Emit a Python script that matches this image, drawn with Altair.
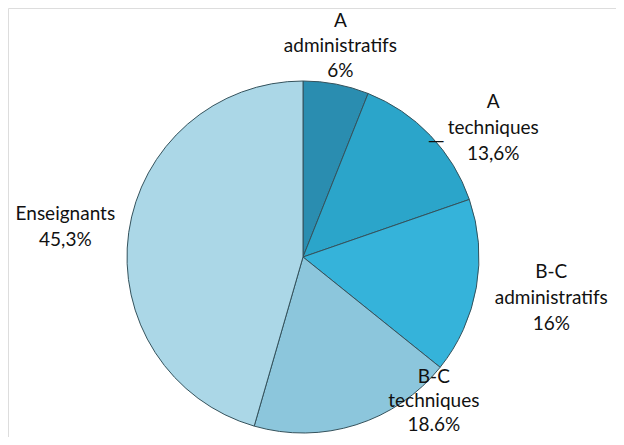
import altair as alt
import pandas as pd

categories = ["A administratifs", "A techniques", "B-C administratifs", "B-C techniques", "Enseignants"]
values = [6.0, 13.6, 16.0, 18.6, 45.3]
label_texts = ["A\nadministratifs\n6%", "A\ntechniques\n13,6%", "B-C\nadministratifs\n16%",
               "B-C\ntechniques\n18.6%", "Enseignants\n45,3%"]
colors = ["#2a8db0", "#2ba5ca", "#35b3da", "#8cc6dc", "#abd7e7"]

df = pd.DataFrame({"cat": categories, "value": values, "label": label_texts,
                   "order": list(range(len(categories)))})
total = sum(values)

CX, CY = 295, 249
theta_scale = alt.Scale(domain=[0, total])

base = alt.Chart(df)

pie = base.mark_arc(outerRadius=176, stroke="#34525c", strokeWidth=1).encode(
    theta=alt.Theta("value:Q", stack=True, scale=theta_scale),
    order=alt.Order("order:Q"),
    color=alt.Color("cat:N", scale=alt.Scale(domain=categories, range=colors), legend=None),
    x=alt.value(CX), y=alt.value(CY),
)

def label_layer(cat, text_field="label", radius=220, dx=0, dy=0, size=19, lh=26):
    return base.transform_window(
        cum="sum(value)", sort=[alt.SortField("order")]
    ).transform_calculate(
        mid="datum.cum - datum.value / 2"
    ).transform_filter(
        alt.datum.cat == cat
    ).mark_text(
        radius=radius, dx=dx, dy=dy, font="Lato", fontSize=size, color="#111111",
        lineBreak="\n", lineHeight=lh, align="center", baseline="middle"
    ).encode(
        theta=alt.Theta("mid:Q", scale=theta_scale),
        text=alt.Text(text_field) if text_field != "leader" else alt.value("\u2014"),
        x=alt.value(CX), y=alt.value(CY),
    )

LH = 26
layers = [
    pie,
    label_layer(categories[0], radius=220, dx=-4, dy=6 - LH, lh=25),
    label_layer(categories[1], radius=187, dx=55, dy=-LH),
    label_layer(categories[1], text_field="leader", radius=176, dx=6, dy=6, size=22),
    label_layer(categories[2], radius=252, dx=0, dy=-2 - LH),
    label_layer(categories[3], radius=162, dx=82, dy=-8 - LH, lh=24),
    label_layer(categories[4], radius=240, dx=0, dy=4 - LH / 2),
]

chart = alt.layer(*layers).properties(
    width=608, height=429, padding=0, autosize=alt.AutoSizeParams(type="none")
).configure_view(stroke=None, strokeWidth=0).configure(background="white")

chart.save("out.html", embed_options={"renderer": "svg", "actions": False})
